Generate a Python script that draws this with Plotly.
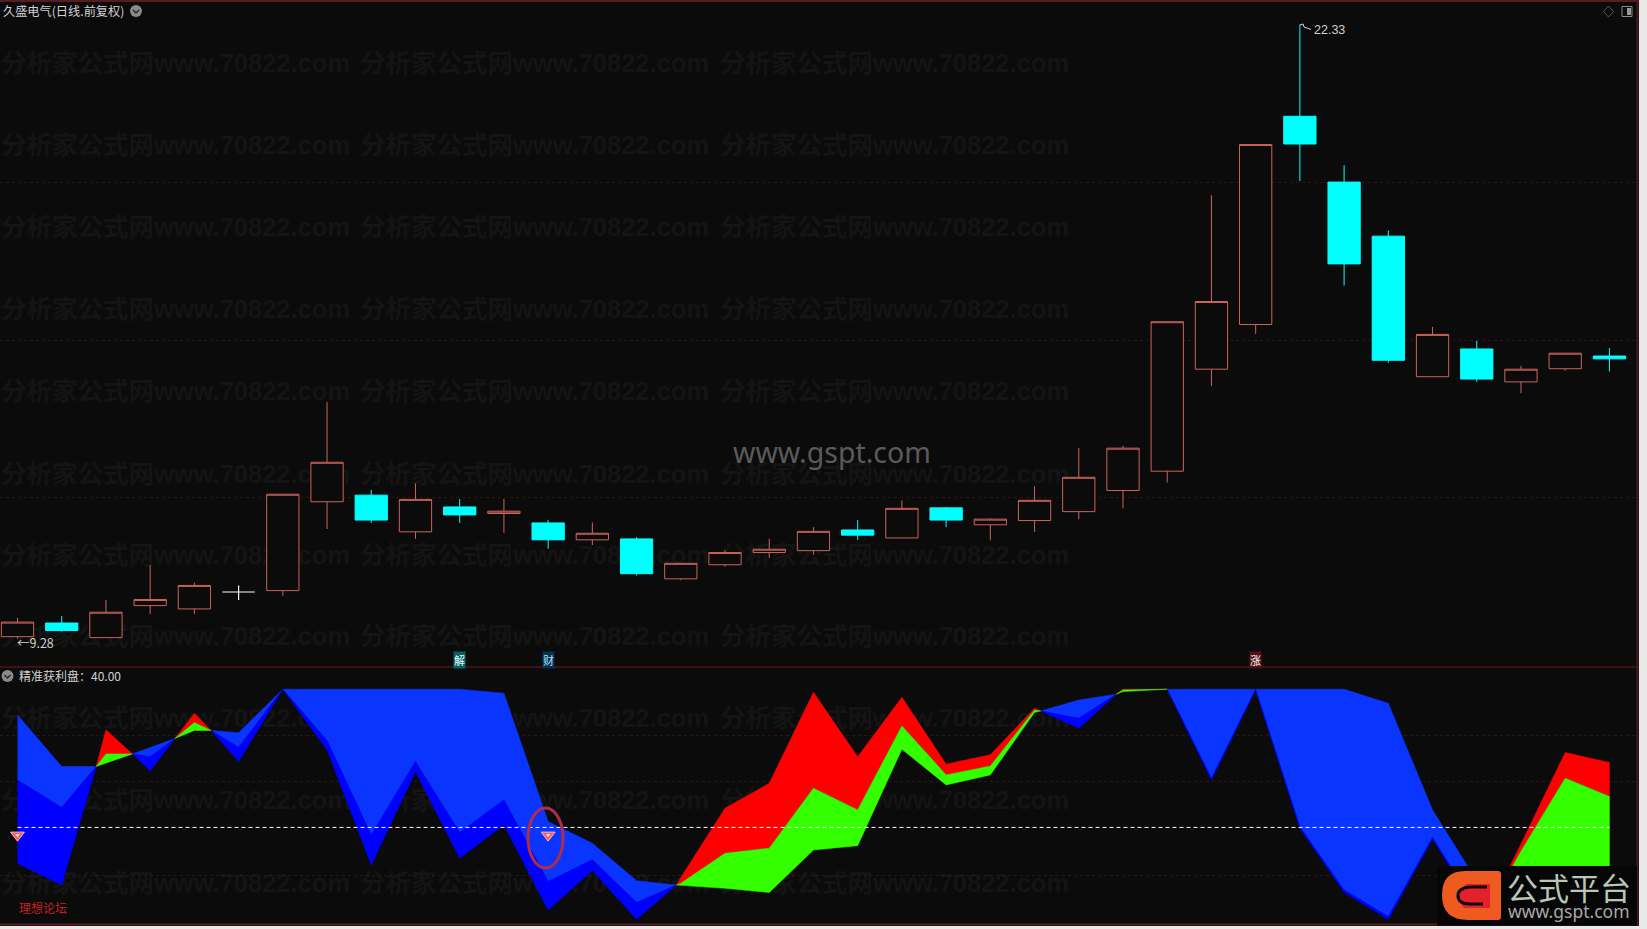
import plotly.graph_objects as go

# ---------- data ----------
STOCK_TITLE = "久盛电气(日线.前复权)"
IND_TITLE = "精准获利盘：40.00"
HIGH_LABEL = "22.33"
LOW_LABEL = "←9.28"
IND_LEVEL = 40.8

opens  = [9.32,9.61,9.30,9.98,9.91,10.27,10.30,12.19,12.33,11.55,12.08,11.94,11.74,11.38,11.40,10.55,10.85,11.11,11.15,11.59,11.42,12.06,11.70,11.79,11.98,12.43,12.84,15.01,15.96,20.39,18.99,17.84,14.85,15.44,14.74,15.02,15.29]
highs  = [9.72,9.76,10.10,10.84,10.47,10.41,12.35,14.31,12.44,12.58,12.25,12.25,11.80,11.75,11.44,10.88,11.16,11.40,11.65,11.80,12.22,12.08,11.84,12.52,13.33,13.38,16.02,18.71,19.79,22.33,19.35,17.96,15.91,15.61,15.08,15.35,15.46]
lows   = [9.28,9.43,9.29,9.80,9.80,10.10,10.19,11.61,11.74,11.40,11.74,11.53,11.19,11.27,10.62,10.52,10.81,11.00,11.06,11.38,11.42,11.65,11.37,11.55,11.82,12.05,12.60,14.65,15.76,19.01,16.79,15.15,14.85,14.74,14.50,14.98,14.96]
closes = [9.63,9.45,9.84,10.11,10.41,10.27,12.35,13.03,11.80,12.24,11.91,11.99,11.38,11.52,10.66,10.88,11.11,11.18,11.56,11.48,12.05,11.80,11.82,12.22,12.71,13.33,16.02,16.45,19.79,19.80,17.25,15.20,15.75,14.80,15.01,15.35,15.23]
white_doji = [5]

band_x   = [0,1,1.78,2,2.6,3,3.56,4,4.38,5,6,7,8,9,10,11,12,13,14,14.9,15,16,17,18,19,20,21,22,23,23.14,24,24.85,25,26,27,28,29,30,31,32,33,33.3,34,35,36]
band_top = [89,66.9,66.9,82.6,72.3,75,78.9,89.7,82.3,81.4,100,100,99.7,100,100,98.3,43.3,34,18,16.1,19.4,49,59.7,98.7,71.1,96.6,67.9,71.9,91.9,90.7,95.4,97.9,100,100,100,100,100,100,94,48.3,18,7,33.7,72.9,68.6]
band_mid = [61.1,49.3,66.9,72.3,72.3,71.1,78.9,85.7,82.3,75.1,100,78,37.6,69,38.6,52.6,17.6,26.9,8.6,16.1,16.9,29.7,31.9,57.6,48.3,84.3,63.3,67.1,91.1,90.7,87.6,97.9,99.7,100,61.9,100,41.1,14,2.6,36.6,6,7,30.6,61.9,54]
band_bot = [25.4,16.1,66.9,68.3,72.3,65,78.9,82.3,82.3,69,100,74,24.7,64.7,27.6,41.9,5.4,22.3,1.4,16.1,15.9,14.7,12.9,31.1,33,74.3,59,63.3,90,90.7,83.3,97.9,99,100,61.1,100,40.4,13,1.4,36,5,7,10,15,15]
band_kind = "BBRRBBRRBB" + "B"*8 + "B" + "R"*10 + "BB" + "R"*2 + "B"*8 + "R"*3
signal_x = [0, 12]
signal_y = [37.5, 37.5]
tags = [("解", 10, "#0b5f66", "#e0ffff"), ("财", 12, "#0a3050", "#a8e4ff"), ("涨", 28, "#551012", "#ffffff")]
watermark = "<b>分析家公式网www.70822.com</b>"

# ---------- style ----------
BG = "#0b0b0b"
RED = "#c9645e"
CYAN = "#00ffff"
W, H = 1647, 929
PX_R, PX_B = 1639, 926
SP, X0 = 44.22, 17.5


def px_x(p):
    return p / W


def px_y(p):
    return 1 - p / H


fig = go.Figure()

# watermark on the page axes (drawn first, behind everything)
wm_rows = [66, 148, 230, 312, 394, 477, 558, 639, 721, 803, 886]
wm_cols = [1, 360, 720]
fig.add_trace(go.Scatter(
    x=[c for r in wm_rows for c in wm_cols], y=[r for r in wm_rows for c in wm_cols],
    text=[watermark] * (len(wm_rows) * len(wm_cols)), mode="text", textposition="middle right",
    textfont=dict(size=25.5, color="#141414", family="Liberation Sans, Noto Sans CJK SC"),
    xaxis="x", yaxis="y", hoverinfo="skip", showlegend=False))

# candles
keep = [i for i in range(len(opens)) if i not in white_doji]
pick = lambda a, ids: [a[i] for i in ids]
fig.add_trace(go.Candlestick(
    x=keep, open=pick(opens, keep), high=pick(highs, keep), low=pick(lows, keep), close=pick(closes, keep),
    xaxis="x2", yaxis="y2", whiskerwidth=0, showlegend=False,
    increasing=dict(line=dict(color=RED, width=1), fillcolor=BG),
    decreasing=dict(line=dict(color=CYAN, width=1), fillcolor=CYAN)))
fig.add_trace(go.Candlestick(
    x=white_doji, open=pick(opens, white_doji), high=pick(highs, white_doji), low=pick(lows, white_doji),
    close=pick(closes, white_doji), xaxis="x2", yaxis="y2", whiskerwidth=0, showlegend=False,
    increasing=dict(line=dict(color="#ffffff", width=1.2), fillcolor="#ffffff"),
    decreasing=dict(line=dict(color="#ffffff", width=1.2), fillcolor="#ffffff")))

# indicator bands: one polygon per run of same-kind intervals
runs = []
s = 0
for k in range(1, len(band_kind) + 1):
    if k == len(band_kind) or band_kind[k] != band_kind[s]:
        runs.append((s, k, band_kind[s]))
        s = k
for a, b, kind in runs:
    xs = band_x[a:b + 1]
    t, m, l = band_top[a:b + 1], band_mid[a:b + 1], band_bot[a:b + 1]
    c1, c2 = ("#0a35ff", "#0000ff") if kind == "B" else ("#ff0000", "#33ff00")
    for up, lo, col in ((t, m, c1), (m, l, c2)):
        fig.add_trace(go.Scatter(
            x=xs + xs[::-1], y=up + lo[::-1], fill="toself", fillcolor=col, mode="lines",
            line=dict(width=0.5, color=col), xaxis="x3", yaxis="y3", hoverinfo="skip", showlegend=False))

fig.add_trace(go.Scatter(
    x=[0, len(opens) - 1], y=[IND_LEVEL, IND_LEVEL], mode="lines",
    line=dict(color="#ffffff", width=1, dash="4px,3px"), xaxis="x3", yaxis="y3", hoverinfo="skip", showlegend=False))
fig.add_trace(go.Scatter(
    x=signal_x, y=signal_y, mode="markers",
    marker=dict(symbol="triangle-down", size=12, color="#ee5f68", line=dict(color="#ffb8b8", width=1)),
    xaxis="x3", yaxis="y3", hoverinfo="skip", showlegend=False))
fig.add_trace(go.Scatter(
    x=signal_x, y=signal_y, mode="markers",
    marker=dict(symbol="triangle-down", size=4, color="#ffe0e0", line=dict(width=0)),
    xaxis="x3", yaxis="y3", hoverinfo="skip", showlegend=False))

shapes = []


def line(x0, y0, x1, y1, color, width=1):
    shapes.append(dict(type="line", xref="x", yref="y", x0=x0, y0=y0, x1=x1, y1=y1,
                       line=dict(color=color, width=width)))


# window margins outside the dark chart area
shapes.append(dict(type="rect", xref="paper", yref="paper", x0=px_x(PX_R), x1=1, y0=0, y1=1,
                   fillcolor="#e9e9e9", line=dict(width=0), layer="below"))
shapes.append(dict(type="rect", xref="paper", yref="paper", x0=0, x1=1, y0=0, y1=px_y(PX_B),
                   fillcolor="#e9e9e9", line=dict(width=0), layer="below"))

# frame
line(0, 1, PX_R, 1, "#5a1a20", 2)
line(0, 667, PX_R, 667, "#6e1c1c", 1)
line(0, 924.5, PX_R, 924.5, "#5a1a20", 2)
line(1637.5, 0, 1637.5, PX_B, "#4a1a20", 2)

# small ui glyphs
for cx, cy in ((136, 11), (7.5, 676)):
    shapes.append(dict(type="circle", xref="x", yref="y", x0=cx - 6, x1=cx + 6, y0=cy - 6, y1=cy + 6,
                       fillcolor="#8a8a8a", line=dict(width=0)))
    shapes.append(dict(type="path", xref="x", yref="y",
                       path=f"M{cx-3},{cy-1} L{cx},{cy+2} L{cx+3},{cy-1}", line=dict(color="#2a2a2a", width=1.5)))
shapes.append(dict(type="path", xref="x", yref="y", path="M1608.5,6 L1613.5,11.5 L1608.5,17 L1603.5,11.5 Z",
                   line=dict(color="#5a5a5a", width=1)))
shapes.append(dict(type="rect", xref="x", yref="y", x0=1622, x1=1632, y0=6.5, y1=16.5,
                   line=dict(color="#8a8a8a", width=1)))
shapes.append(dict(type="rect", xref="x", yref="y", x0=1627, x1=1631, y0=8, y1=15, fillcolor="#999999",
                   line=dict(width=0)))
# high flag
shapes.append(dict(type="path", xref="x", yref="y", path="M1299.5,25 L1303,24 L1304,27 L1311,29.5",
                   line=dict(color="#d8d8d8", width=1)))
# hand-drawn ellipse
shapes.append(dict(type="circle", xref="x", yref="y", x0=528, x1=563, y0=808, y1=868,
                   line=dict(color="#b02c48", width=3)))
# logo
shapes.append(dict(type="rect", xref="x", yref="y", x0=1437, x1=1637, y0=866, y1=925.5,
                   fillcolor="#060606", line=dict(width=0)))
shapes.append(dict(type="path", xref="x", yref="y",
                   path="M1465,871 L1498,871 Q1501,871 1501,874 L1501,917 Q1501,920 1498,920 L1468,920 "
                        "Q1442,920 1442,895 Q1442,871 1465,871 Z",
                   fillcolor="#ee5a20", line=dict(width=0)))
shapes.append(dict(type="path", xref="x", yref="y",
                   path="M1466,884 L1490,884 L1490,908 L1464,908 Q1453,896 1466,884 Z",
                   fillcolor="#e4202c", line=dict(width=0)))
shapes.append(dict(type="path", xref="x", yref="y",
                   path="M1487,887 L1470,887 Q1458,888 1458,895.5 Q1458,904 1470,904 L1483,904",
                   line=dict(color="#0a0a0a", width=3)))

ann = []


def text(x, y, s, size, color, anchor="left", family="Noto Sans CJK SC, Liberation Sans", **kw):
    ann.append(dict(xref="x", yref="y", x=x, y=y, text=s, showarrow=False, xanchor=anchor, yanchor="middle",
                    font=dict(size=size, color=color, family=family), borderpad=0, **kw))


text(2, 10.5, STOCK_TITLE, 12.2, "#d2d2d2")
text(17.5, 675.5, IND_TITLE, 12, "#d2d2d2")
text(1313, 29.5, HIGH_LABEL, 12.5, "#d0d0d0", family="Liberation Sans")
text(16, 642.5, LOW_LABEL, 12.5, "#d0d0d0")
text(832, 452, "www.gspt.com", 28.5, "#5a5a5a", anchor="center", family="Noto Sans")
text(18, 907.5, "理想论坛", 12, "#c42222")
text(1569, 886, "公式平台", 31, "#b6c8b6", anchor="center")
text(1569, 910.5, "www.gspt.com", 17.5, "#a8a8a8", anchor="center", family="Noto Sans")
for s, i, bg, fg in tags:
    text(X0 + SP * i, 660, s, 11, fg, anchor="center", bgcolor=bg)

x_range = [-X0 / SP, (PX_R - X0) / SP]
dom_x = [0, px_x(PX_R)]
no = dict(showticklabels=False, showline=False, zeroline=False, ticks="")
grid = dict(showgrid=True, gridcolor="#331212", griddash="dot", gridwidth=1)
CLEAR = "rgba(0,0,0,0)"

fig.update_layout(
    width=W, height=H, margin=dict(l=0, r=0, t=0, b=0), autosize=False,
    paper_bgcolor=BG, plot_bgcolor=CLEAR, showlegend=False,
    boxgap=0.27, boxgroupgap=0,
    shapes=shapes, annotations=ann,
    xaxis=dict(domain=dom_x, range=[0, PX_R], showgrid=False, **no),
    yaxis=dict(domain=[px_y(PX_B), 1], range=[PX_B, 0], showgrid=False, **no),
    xaxis2=dict(domain=dom_x, range=x_range, anchor="y2", showgrid=False, rangeslider=dict(visible=False), **no),
    yaxis2=dict(domain=[px_y(666), px_y(3)], range=[8.696, 22.80], anchor="x2",
                tickvals=[12.27, 15.63, 18.99], **grid, **no),
    xaxis3=dict(domain=dom_x, range=x_range, anchor="y3", showgrid=False, **no),
    yaxis3=dict(domain=[px_y(925), px_y(668)], range=[-1.0, 109.1], anchor="x3",
                tickvals=[20.4, 60.3, 80.3], **grid, **no),
)

fig.write_html("out.html", config=dict(displayModeBar=False),
               post_script="document.body.style.margin='0';document.body.style.background='#e9e9e9';")
